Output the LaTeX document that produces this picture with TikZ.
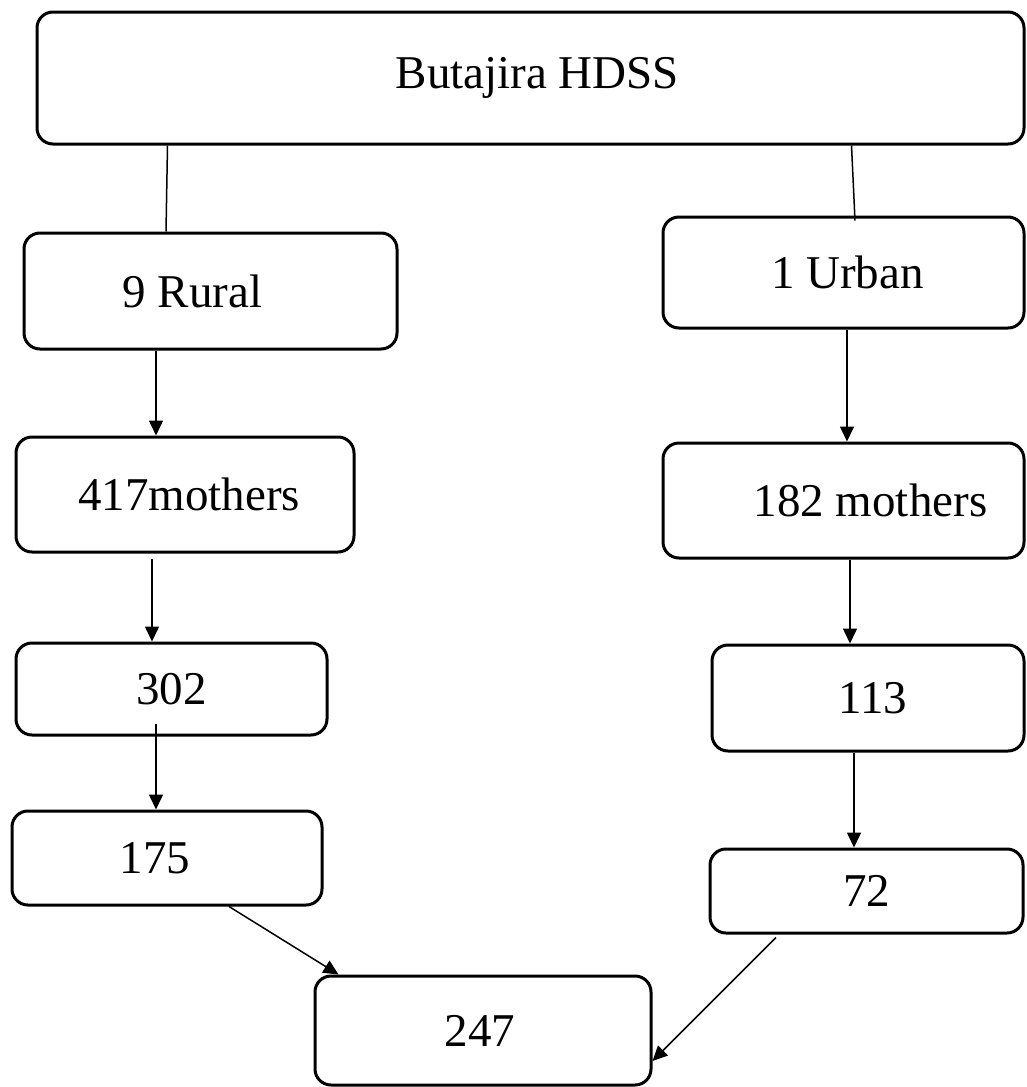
\documentclass[tikz,border=0pt]{standalone}
\usepackage{fontspec}
\setmainfont{Liberation Serif}
\usetikzlibrary{arrows.meta}

\begin{document}
\begin{tikzpicture}[x=1pt, y=-1pt,
    every node/.style={font=\fontsize{47}{56}\selectfont},
    box/.style={draw, line width=3pt, rounded corners=16pt, inner sep=0pt},
    link/.style={line width=1.5pt},
    flow/.style={link, -{Triangle[length=15pt, width=14pt]}}]
  \useasboundingbox (0,0) rectangle (1027,1087);

  % Top box
  \node[box, minimum width=987pt, minimum height=132pt] (hdss) at (530.5,78) {\hspace*{14pt}Butajira HDSS};

  % Rural branch
  \node[box, minimum width=373pt, minimum height=116pt] (rural) at (210.5,291) {\hspace*{-36pt}9 Rural};
  \node[box, minimum width=338pt, minimum height=115pt] (m417) at (185,494.5) {\hspace*{8pt}417mothers};
  \node[box, minimum width=311pt, minimum height=92pt] (r302) at (171.5,689) {302};
  \node[box, minimum width=310pt, minimum height=94pt] (r175) at (167,858) {\hspace*{-24pt}175};

  % Urban branch
  \node[box, minimum width=361pt, minimum height=111pt] (urban) at (843.5,272.5) {\hspace*{8pt}1 Urban};
  \node[box, minimum width=361pt, minimum height=115pt] (m182) at (843.5,500.5) {\hspace*{54pt}182 mothers};
  \node[box, minimum width=312pt, minimum height=106pt] (u113) at (868,698) {\hspace*{10pt}113};
  \node[box, minimum width=313pt, minimum height=84pt] (u72) at (866.5,891) {72};

  % Total
  \node[box, minimum width=336pt, minimum height=109pt] (n247) at (483,1030.5) {\hspace*{-6pt}247};

  % Plain links from the top box
  \draw[link] ([xshift=132pt]hdss.south west) -- ([xshift=-44.5pt]rural.north);
  \draw[link] ([xshift=816pt]hdss.south west) -- ([xshift=11.5pt, yshift=-5pt]urban.north);

  % Rural arrows
  \draw[flow] ([xshift=-54.5pt]rural.south) -- ([xshift=-29pt]m417.north);
  \draw[flow] ([xshift=-33pt, yshift=-5pt]m417.south) -- ([xshift=-19.5pt]r302.north);
  \draw[flow] ([xshift=-15.5pt, yshift=13pt]r302.south) -- ([xshift=-11pt]r175.north);

  % Urban arrows
  \draw[flow] ([xshift=3.5pt]urban.south) -- ([xshift=3.5pt]m182.north);
  \draw[flow] ([xshift=6.5pt]m182.south) -- ([xshift=-18pt]u113.north);
  \draw[flow] ([xshift=-14pt]u113.south) -- ([xshift=-12.5pt]u72.north);

  % Into the total
  \draw[flow] ([xshift=62pt]r175.south) -- ([xshift=25pt]n247.north west);
  \draw[flow] ([xshift=-90.5pt, yshift=-3pt]u72.south) -- ([yshift=-30.5pt]n247.east);
\end{tikzpicture}
\end{document}
